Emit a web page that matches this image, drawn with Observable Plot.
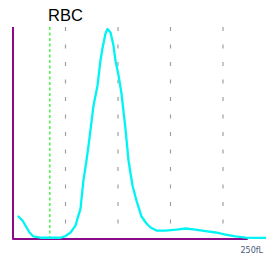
<!DOCTYPE html>
<html>
<head>
<meta charset="utf-8">
<script src="https://cdn.jsdelivr.net/npm/d3@7"></script>
<script src="https://cdn.jsdelivr.net/npm/@observablehq/plot@0.6"></script>
<style>
  html, body { margin: 0; padding: 0; background: #fff; overflow: hidden; }
  #chart { width: 266px; height: 259px; }
</style>
</head>
<body>
<div id="chart"></div>
<script>
// Histogram curve (volume in fL, relative count %)
const volume = [5.2, 9.0, 11.9, 15.7, 19.5, 26.2, 35.7, 45.2, 50, 54.8, 59.5, 64.3, 67.1, 70, 72.9, 76.7, 80.5, 83.3, 85.2, 88.1, 90,
  92.9, 95.7, 97.6, 100.5, 103.3, 107.1, 110, 113.8, 117.6, 122.4, 127.1, 131, 136.7, 145.2, 155.7, 164.3, 173.8, 183.3, 192.9, 202.4, 211.9, 221.4, 231, 241.4];
const count = [10.7, 8.8, 6.4, 3.1, 1.2, 0.6, 0.6, 0.6, 1.4, 3.1, 6.4, 14.5, 27.9, 37.4, 48.3, 63.6, 73.1, 85, 90.7, 97.9, 100,
  98.3, 92.1, 85, 77.9, 69.3, 52.6, 37.4, 25.5, 18.3, 10.7, 7.4, 5.5, 4, 4, 4.5, 5, 4.5, 3.8, 3.1, 2.1, 1.2, 0.7, 0.5, 0.5];
const gridTicks = [50, 100, 150, 200];
const discriminator = [35];
const title = "RBC";
const unitLabel = "250fL";

const curve = volume.map((v, i) => ({volume: v, count: count[i]}));

const plot = Plot.plot({
  width: 266,
  height: 259,
  marginLeft: 12.5,
  marginRight: 1.5,
  marginTop: 28.5,
  marginBottom: 20.5,
  x: {domain: [0, 240], axis: null},
  y: {domain: [0, 100], axis: null},
  style: {background: "#fff", overflow: "visible"},
  marks: [
    Plot.ruleX(gridTicks, {y1: 100.7, y2: 6, stroke: "#a0a0a0", strokeWidth: 1.2, strokeDasharray: "4,13.5"}),
    Plot.ruleX(discriminator, {y1: 100.7, y2: 0, stroke: "#55f055", strokeWidth: 1.6, strokeDasharray: "3,2.5"}),
    Plot.ruleX([0], {y1: -0.5, y2: 100.7, stroke: "#8a0a8a", strokeWidth: 2}),
    Plot.ruleY([0], {x1: 0, x2: 224, stroke: "#8a0a8a", strokeWidth: 2}),
    Plot.line(curve, {x: "volume", y: "count", stroke: "#00f4f4", strokeWidth: 2.3, curve: "linear"}),
    Plot.text([title], {x: gridTicks[0], y: 100, dy: -8, text: d => d, fill: "#000", fontSize: 16.5, fontFamily: "Liberation Sans, Arial, sans-serif", textAnchor: "middle", lineAnchor: "bottom"}),
    Plot.text([unitLabel], {frameAnchor: "bottom-right", dy: 14, dx: -2, text: d => d, fill: "#4a5a7a", fontSize: 8, fontFamily: "DejaVu Sans, sans-serif", textAnchor: "end"})
  ]
});
document.getElementById("chart").appendChild(plot);
</script>
</body>
</html>
